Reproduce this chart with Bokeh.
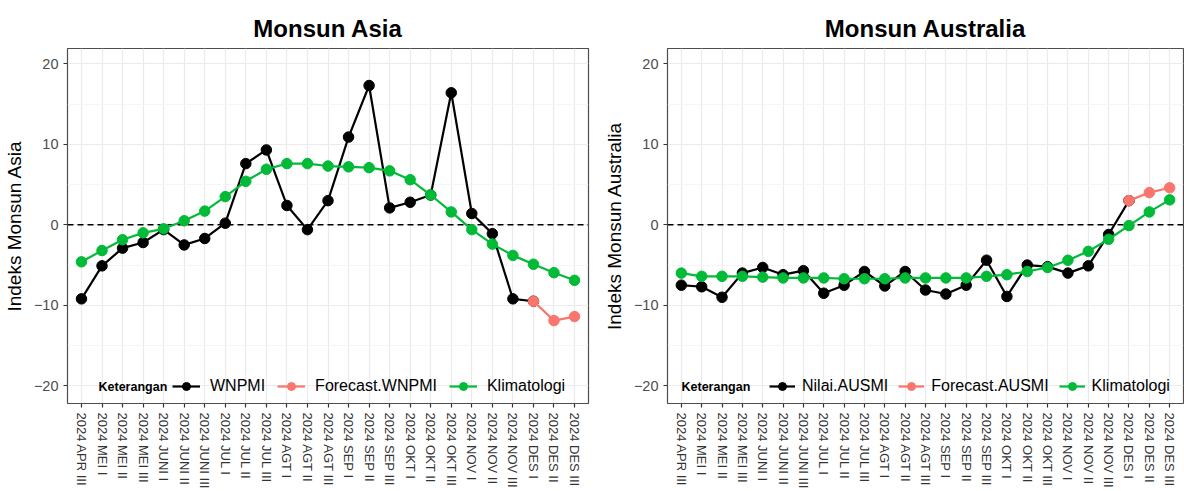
from bokeh.plotting import figure
from bokeh.models import (FactorRange, Range1d, Span, Legend, LegendItem,
                          FixedTicker, ColumnDataSource, Label)
from bokeh.layouts import row
from bokeh.embed import file_html
from bokeh.resources import INLINE

FONT = "Liberation Sans"

categories = [
    "2024 APR III", "2024 MEI I", "2024 MEI II", "2024 MEI III",
    "2024 JUNI I", "2024 JUNI II", "2024 JUNI III",
    "2024 JUL I", "2024 JUL II", "2024 JUL III",
    "2024 AGT I", "2024 AGT II", "2024 AGT III",
    "2024 SEP I", "2024 SEP II", "2024 SEP III",
    "2024 OKT I", "2024 OKT II", "2024 OKT III",
    "2024 NOV I", "2024 NOV II", "2024 NOV III",
    "2024 DES I", "2024 DES II", "2024 DES III",
]

# Monsun Asia
asia_wnpmi = [-9.2, -5.1, -2.9, -2.2, -0.6, -2.5, -1.7, 0.2, 7.6, 9.3, 2.4, -0.6,
              3.0, 10.9, 17.3, 2.1, 2.8, 3.7, 16.4, 1.4, -1.1, -9.2, -9.5]
asia_forecast = [-9.5, -11.9, -11.4]
asia_klim = [-4.6, -3.2, -1.85, -1.0, -0.5, 0.5, 1.7, 3.5, 5.4, 6.9, 7.6, 7.6, 7.3,
             7.2, 7.1, 6.7, 5.6, 3.7, 1.6, -0.6, -2.4, -3.8, -4.9, -5.95, -6.9]

# Monsun Australia
aus_ausmi = [-7.5, -7.7, -9.0, -6.0, -5.3, -6.2, -5.7, -8.5, -7.5, -5.8, -7.6, -5.8,
             -8.1, -8.6, -7.5, -4.4, -8.9, -5.0, -5.2, -6.0, -5.1, -1.2, 3.0]
aus_forecast = [3.0, 4.0, 4.6]
aus_klim = [-6.0, -6.4, -6.4, -6.4, -6.5, -6.6, -6.6, -6.6, -6.7, -6.7, -6.7, -6.6, -6.6,
            -6.6, -6.6, -6.4, -6.2, -5.8, -5.3, -4.4, -3.3, -1.8, -0.1, 1.6, 3.1]

series_names_asia = ["WNPMI", "Forecast.WNPMI", "Klimatologi"]
series_names_aus = ["Nilai.AUSMI", "Forecast.AUSMI", "Klimatologi"]

COLORS = ["#000000", "#F8766D", "#00BA38"]


def make_panel(title, ylabel, obs, fc, klim, names, width, left, right,
               key_x, legend_x, glyph_w, standoff, spacing):
    p = figure(
        x_range=FactorRange(factors=categories, range_padding=0.18,
                            range_padding_units="absolute"),
        y_range=Range1d(-22.2, 21.9),
        width=width, height=491,
        min_border_left=left, min_border_right=right,
        min_border_top=48, min_border_bottom=88,
        output_backend="svg", toolbar_location=None,
        title=title,
    )
    p.background_fill_color = "white"
    p.border_fill_color = "white"
    p.outline_line_color = "#4d4d4d"
    p.outline_line_width = 1.2

    p.title.text_font = FONT
    p.title.text_font_size = "24px"
    p.title.text_font_style = "bold"
    p.title.align = "center"
    p.title.text_color = "black"
    p.title.standoff = 13

    ticker = FixedTicker(ticks=[-20, -10, 0, 10, 20], minor_ticks=[-15, -5, 5, 15])
    p.yaxis.ticker = ticker
    p.ygrid.ticker = ticker
    p.ygrid.grid_line_color = "#ebebeb"
    p.ygrid.grid_line_width = 1.2
    p.ygrid.minor_grid_line_color = "#f3f3f3"
    p.ygrid.minor_grid_line_width = 0.8
    p.xgrid.grid_line_color = "#ebebeb"
    p.xgrid.grid_line_width = 1.2

    for ax in (p.xaxis[0], p.yaxis[0]):
        ax.axis_line_color = None
        ax.major_tick_line_color = "#333333"
        ax.major_tick_line_width = 1.2
        ax.major_tick_out = 4
        ax.major_tick_in = 0
        ax.minor_tick_line_color = None
        ax.major_label_text_font = FONT
        ax.major_label_text_color = "#4d4d4d"

    p.yaxis.major_label_text_font_size = "14.5px"
    p.yaxis.axis_label = ylabel
    p.yaxis.axis_label_text_font = FONT
    p.yaxis.axis_label_text_font_size = "19px"
    p.yaxis.axis_label_text_font_style = "normal"
    p.yaxis.axis_label_text_color = "black"
    p.yaxis.axis_label_standoff = 6

    p.xaxis.major_label_orientation = "vertical"
    p.xaxis.major_label_text_font_size = "13px"
    p.xaxis.major_label_text_color = "#333333"
    p.xaxis.major_label_standoff = 5

    zero = Span(location=0, dimension="width", line_color="black",
                line_width=1.5, line_dash="6 4", level="underlay")
    p.add_layout(zero)

    src_obs = ColumnDataSource(dict(x=categories[:len(obs)], y=obs))
    src_fc = ColumnDataSource(dict(x=categories[len(categories) - len(fc):], y=fc))
    src_kl = ColumnDataSource(dict(x=categories[:len(klim)], y=klim))

    items = []
    for src, col, name in zip((src_obs, src_fc, src_kl), COLORS, names):
        ln = p.line("x", "y", source=src, line_color=col, line_width=2.2)
        sc = p.scatter("x", "y", source=src, size=10.5, fill_color=col,
                       line_color=col, marker="circle")
        items.append(LegendItem(label=name, renderers=[ln, sc]))

    key = Label(x=key_x, y=17, x_units="screen", y_units="screen",
                text="Keterangan", text_font=FONT, text_font_size="12.5px",
                text_font_style="bold", text_baseline="middle",
                text_color="black")
    p.add_layout(key)

    legend = Legend(items=items, location=(legend_x, 7), orientation="horizontal",
                    padding=0, margin=0, spacing=spacing, glyph_width=glyph_w,
                    glyph_height=20, label_height=20, label_standoff=standoff,
                    label_text_font=FONT, label_text_font_size="16px",
                    label_text_color="black", label_text_baseline="middle",
                    background_fill_alpha=0, border_line_color=None)
    p.add_layout(legend)
    return p


p1 = make_panel("Monsun Asia", "Indeks Monsun Asia", asia_wnpmi, asia_forecast,
                asia_klim, series_names_asia, 600, 66, 12, 31, 105, 28, 10, 12)
p2 = make_panel("Monsun Australia", "Indeks Monsun Australia", aus_ausmi,
                aus_forecast, aus_klim, series_names_aus, 584, 64, 1, 14, 102,
                26, 7, 10)

layout = row(p1, p2, spacing=0)

open("out.html", "w").write(file_html(layout, INLINE))
